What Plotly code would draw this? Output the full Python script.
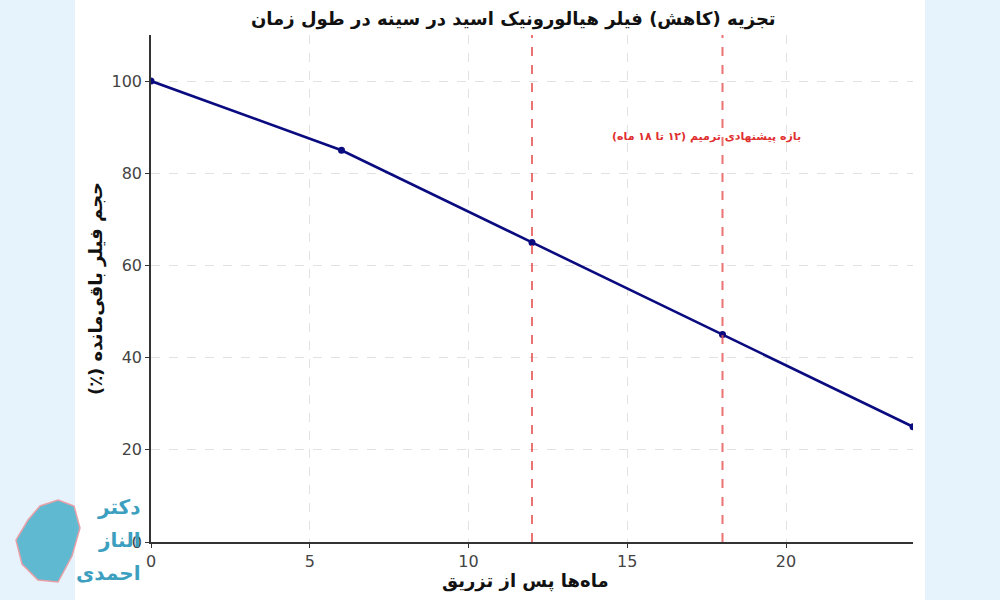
import plotly.graph_objects as go

months = [0, 6, 12, 18, 24]
volume = [100, 85, 65, 45, 25]
repair_lines = [12, 18]
title = "تجزیه (کاهش) فیلر هیالورونیک اسید در سینه در طول زمان"
x_title = "ماه‌ها پس از تزریق"
y_title = "حجم فیلر باقی‌مانده (٪)\u200f"
note = "بازه پیشنهادی ترمیم (۱۲ تا ۱۸ ماه)\u200f"
logo_lines = ["دکتر", "الناز", "احمدی"]

W, H = 1000, 600
L, R, T, B = 151, 87, 35, 58
pw, ph = W - L - R, H - T - B

def px(x):
    return (x - L) / pw

def py(y):
    return (H - B - y) / ph

fig = go.Figure()
fig.add_trace(go.Scatter(
    x=months, y=volume, mode="lines+markers",
    line=dict(color="#0b0b80", width=2.6),
    marker=dict(color="#0b0b80", size=7),
    showlegend=False, cliponaxis=True,
))

shapes = [dict(type="rect", xref="paper", yref="paper",
               x0=px(75), x1=px(925), y0=py(600), y1=py(0),
               fillcolor="white", line=dict(width=0), layer="below")]
for xv in repair_lines:
    shapes.append(dict(type="line", xref="x", yref="paper", x0=xv, x1=xv, y0=0, y1=1,
                       line=dict(color="rgba(230,90,90,0.85)", width=2, dash="dash")))

# decorative logo silhouette
pts = [(58, 500), (74, 506), (80, 528), (72, 556), (58, 582), (38, 580), (22, 564), (16, 540), (28, 520), (40, 506)]
path = "M " + " L ".join(f"{px(a)},{py(b)}" for a, b in pts) + " Z"
shapes.append(dict(type="path", xref="paper", yref="paper", path=path,
                   fillcolor="rgba(70,175,200,0.85)", line=dict(color="#e8a0a8", width=1.5),
                   layer="above"))

annotations = [
    dict(text="<b>" + title + "</b>", xref="paper", yref="paper",
         x=px(513), y=py(19), showarrow=False,
         font=dict(family="DejaVu Sans", size=18, color="#111"), yanchor="middle"),
    dict(text="<b>" + x_title + "</b>", xref="paper", yref="paper",
         x=px(525), y=py(581), showarrow=False,
         font=dict(family="DejaVu Sans", size=18, color="#111"), yanchor="middle"),
    dict(text="<b>" + note + "</b>", x=17.5, y=88, showarrow=False,
         font=dict(family="DejaVu Sans", size=11, color="#e03030")),
]
for i, t in enumerate(logo_lines):
    annotations.append(dict(text="<b>" + t + "</b>", xref="paper", yref="paper",
                            x=px(143), y=py(507 + 33 * i),
                            xanchor="right", yanchor="middle", showarrow=False,
                            font=dict(family="DejaVu Sans", size=20, color="#3d9fbf")))

fig.update_layout(
    width=W, height=H,
    margin=dict(l=L, r=R, t=T, b=B),
    paper_bgcolor="#e6f2fc", plot_bgcolor="white",
    shapes=shapes, annotations=annotations,
    xaxis=dict(range=[0, 24], tickvals=[0, 5, 10, 15, 20],
               showgrid=True, gridcolor="#e2e2e2", griddash="dash", gridwidth=1,
               showline=True, linecolor="#333", linewidth=1.5,
               ticks="outside", ticklen=4, tickcolor="#333", zeroline=False,
               tickfont=dict(family="DejaVu Sans", size=16, color="#444")),
    yaxis=dict(range=[0, 110], tickvals=[0, 20, 40, 60, 80, 100],
               showgrid=True, gridcolor="#e2e2e2", griddash="dash", gridwidth=1,
               showline=True, linecolor="#333", linewidth=1.5,
               ticks="outside", ticklen=4, tickcolor="#333", zeroline=False,
               tickfont=dict(family="DejaVu Sans", size=16, color="#444"),
               title=dict(text="<b>" + y_title + "</b>", standoff=4,
                          font=dict(family="DejaVu Sans", size=18, color="#111"))),
)

fig.write_html("out.html", config={"displayModeBar": False},
               post_script="document.body.style.margin='0';")
